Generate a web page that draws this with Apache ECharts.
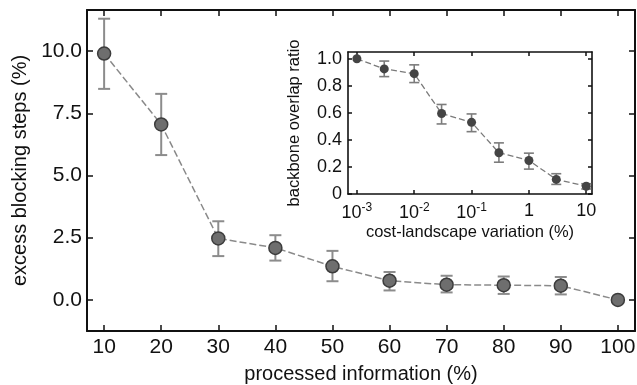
<!DOCTYPE html>
<html>
<head>
<meta charset="utf-8">
<script src="https://cdn.jsdelivr.net/npm/echarts@6/dist/echarts.min.js"></script>
<style>
  html, body { margin: 0; padding: 0; background: #fff; }
  #chart { width: 637px; height: 385px; }
</style>
</head>
<body>
<div id="chart"></div>
<script>
// main panel: excess blocking steps vs processed information
const infoPct = [10, 20, 30, 40, 50, 60, 70, 80, 90, 100];
const excessSteps = [9.9, 7.05, 2.47, 2.09, 1.35, 0.77, 0.61, 0.59, 0.57, 0.0];
const excessLow = [8.48, 5.82, 1.76, 1.58, 0.75, 0.38, 0.3, 0.24, 0.22, 0.0];
const excessHigh = [11.3, 8.28, 3.16, 2.6, 1.97, 1.12, 0.97, 0.94, 0.92, 0.0];
const mainXTicks = [10, 20, 30, 40, 50, 60, 70, 80, 90, 100];
const mainYTicks = [0, 2.5, 5, 7.5, 10];

// inset: backbone overlap ratio vs cost-landscape variation
const costVar = [0.001, 0.003, 0.01, 0.03, 0.1, 0.3, 1, 3, 10];
const overlap = [1.0, 0.925, 0.89, 0.595, 0.53, 0.305, 0.248, 0.108, 0.057];
const overlapLow = [1.0, 0.868, 0.824, 0.518, 0.461, 0.235, 0.184, 0.071, 0.037];
const overlapHigh = [1.0, 0.983, 0.955, 0.662, 0.592, 0.378, 0.302, 0.15, 0.076];
const insetXTicks = [0.001, 0.01, 0.1, 1, 10];
const insetXLabels = ["10{sup|-3}", "10{sup|-2}", "10{sup|-1}", "1", "10"];
const insetYTicks = [0, 0.2, 0.4, 0.6, 0.8, 1.0];

const FONT = "Liberation Sans";

function errorBarSeries(xIdx, yIdx, xs, lo, hi, cap, color, width) {
    return {
        type: "custom",
        xAxisIndex: xIdx,
        yAxisIndex: yIdx,
        z: 2,
        silent: true,
        data: xs.map((x, i) => [x, lo[i], hi[i]]),
        renderItem: function (params, api) {
            const top = api.coord([api.value(0), api.value(2)]);
            const bot = api.coord([api.value(0), api.value(1)]);
            if (Math.abs(top[1] - bot[1]) < 1) return null;
            const style = { stroke: color, lineWidth: width };
            return {
                type: "group",
                children: [
                    { type: "line", shape: { x1: top[0], y1: top[1], x2: bot[0], y2: bot[1] }, style: style },
                    { type: "line", shape: { x1: top[0] - cap, y1: top[1], x2: top[0] + cap, y2: top[1] }, style: style },
                    { type: "line", shape: { x1: bot[0] - cap, y1: bot[1], x2: bot[0] + cap, y2: bot[1] }, style: style }
                ]
            };
        }
    };
}

// one axis for each side of a frame; ticks point inwards
function makeAxis(opts) {
    return {
        type: opts.type || "value",
        gridIndex: opts.grid,
        position: opts.position,
        min: opts.min,
        max: opts.max,
        z: opts.z,
        axisLine: { show: true, onZero: false, lineStyle: { color: "#111", width: opts.lineWidth } },
        splitLine: { show: false },
        axisTick: {
            show: true, inside: true, length: opts.tickLen, customValues: opts.ticks,
            lineStyle: { color: "#111", width: 1.5 }
        },
        axisLabel: opts.label ? Object.assign({ customValues: opts.ticks, color: "#111", fontFamily: FONT }, opts.label) : { show: false },
        name: opts.name,
        nameLocation: "middle",
        nameGap: opts.nameGap,
        nameTextStyle: { color: "#111", fontSize: opts.nameSize, fontFamily: FONT }
    };
}

const chart = echarts.init(document.getElementById("chart"));

chart.setOption({
    backgroundColor: "#fff",
    animation: false,
    grid: [
        { left: 87, right: 2, top: 10, bottom: 54, outerBoundsMode: "none" },
        { left: 348, right: 45, top: 52, bottom: 191, outerBoundsMode: "none", show: true, borderWidth: 0, backgroundColor: "#fff", z: 10 }
    ],
    xAxis: [
        makeAxis({
            grid: 0, position: "bottom", min: 7, max: 103, ticks: mainXTicks, lineWidth: 2, tickLen: 6,
            label: { fontSize: 21, margin: 6 },
            name: "processed information (%)", nameGap: 33, nameSize: 20
        }),
        makeAxis({ grid: 0, position: "top", min: 7, max: 103, ticks: mainXTicks, lineWidth: 2, tickLen: 6 }),
        makeAxis({
            grid: 1, type: "log", position: "bottom", min: 0.0007, max: 12.6, ticks: insetXTicks, lineWidth: 1.6, tickLen: 4, z: 11,
            label: {
                fontSize: 18, margin: 8,
                formatter: function (v) {
                    const i = insetXTicks.findIndex(t => Math.abs(Math.log10(t) - Math.log10(v)) < 0.01);
                    return i > -1 ? insetXLabels[i] : "";
                },
                rich: { sup: { fontSize: 12, fontFamily: FONT, color: "#111", verticalAlign: "top", padding: [0, 0, 11, 0] } }
            },
            name: "cost-landscape variation (%)", nameGap: 30, nameSize: 16.5
        }),
        makeAxis({ grid: 1, type: "log", position: "top", min: 0.0007, max: 12.6, ticks: insetXTicks, lineWidth: 1.6, tickLen: 4, z: 11 })
    ],
    yAxis: [
        makeAxis({
            grid: 0, position: "left", min: -1.25, max: 11.65, ticks: mainYTicks, lineWidth: 2, tickLen: 6,
            label: { fontSize: 21, margin: 5, formatter: v => v.toFixed(1) },
            name: "excess blocking steps (%)", nameGap: 55, nameSize: 20
        }),
        makeAxis({ grid: 0, position: "right", min: -1.25, max: 11.65, ticks: mainYTicks, lineWidth: 2, tickLen: 6 }),
        makeAxis({
            grid: 1, position: "left", min: 0, max: 1.05, ticks: insetYTicks, lineWidth: 1.6, tickLen: 4, z: 11,
            label: { fontSize: 18, margin: 6, formatter: v => (v === 0 ? "0" : v.toFixed(1)) },
            name: "backbone overlap ratio", nameGap: 45, nameSize: 16.5
        }),
        makeAxis({ grid: 1, position: "right", min: 0, max: 1.05, ticks: insetYTicks, lineWidth: 1.6, tickLen: 4, z: 11 })
    ],
    series: [
        errorBarSeries(0, 0, infoPct, excessLow, excessHigh, 6, "#8c8c8c", 2),
        {
            type: "line",
            xAxisIndex: 0,
            yAxisIndex: 0,
            z: 3,
            data: infoPct.map((x, i) => [x, excessSteps[i]]),
            symbol: "circle",
            symbolSize: 13,
            lineStyle: { color: "#8a8a8a", width: 1.5, type: [7, 3] },
            itemStyle: { color: "#6e6e6e", borderColor: "#3c3c3c", borderWidth: 1.5 }
        },
        Object.assign(errorBarSeries(2, 2, costVar, overlapLow, overlapHigh, 5, "#7c7c7c", 1.6), { z: 12 }),
        {
            type: "line",
            xAxisIndex: 2,
            yAxisIndex: 2,
            z: 13,
            data: costVar.map((x, i) => [x, overlap[i]]),
            symbol: "circle",
            symbolSize: 9,
            lineStyle: { color: "#7a7a7a", width: 1.3, type: [6, 3] },
            itemStyle: { color: "#444", borderWidth: 0 }
        }
    ]
});
</script>
</body>
</html>
